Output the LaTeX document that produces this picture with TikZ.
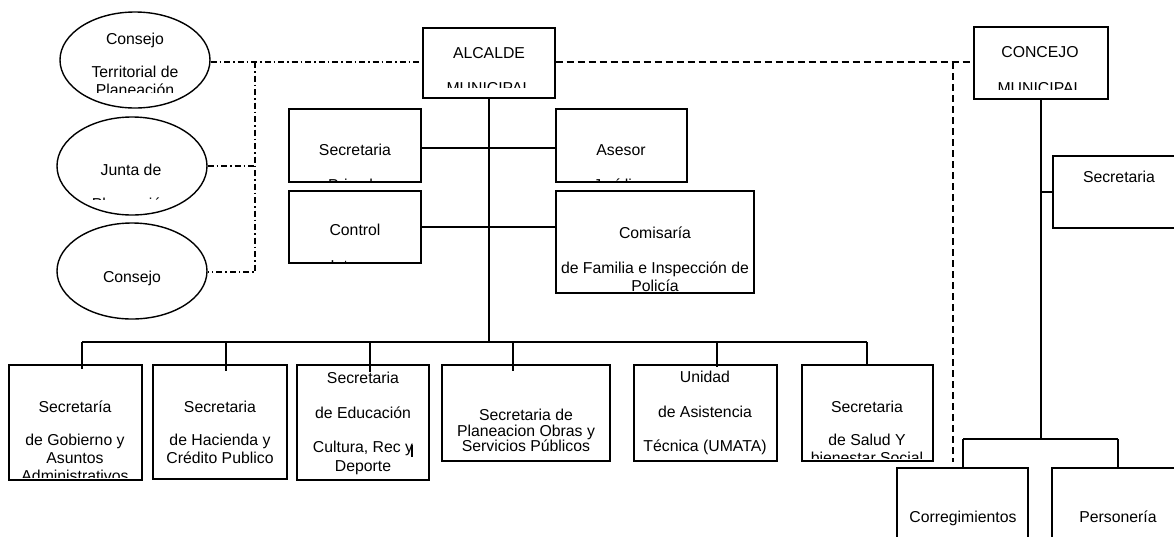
\documentclass[tikz,border=0pt]{standalone}
\usepackage{fontspec}
\setmainfont{Liberation Sans}
\usetikzlibrary{shapes.geometric}

\tikzset{
  unit/.style 2 args={draw, line width=1.4pt, minimum width=#1, minimum height=#2, inner sep=0pt},
  council/.style={draw, ellipse, line width=1.4pt, minimum width=150pt, minimum height=#1, inner sep=0pt},
  lbl/.style={anchor=north, align=center, inner sep=0pt, font=\fontsize{15.8}{18}\selectfont},
  link/.style={line width=1.4pt},
  dashlink/.style={line width=1.4pt, dash pattern=on 7pt off 4pt},
  dotlink/.style={line width=1.4pt, dash pattern=on 6pt off 3pt on 1.5pt off 3pt},
}

% text cut off at the bottom of its box
\newcommand{\cuttext}[4]{%
  \begin{scope}
    \clip (0,0) rectangle (1174,#1);
    \node[lbl] (#2) at (#3) {#4};
  \end{scope}}

\begin{document}
\begin{tikzpicture}[x=1pt, y=-1pt]
    \useasboundingbox (0,0) rectangle (1174,536);
    \clip (0,0) rectangle (1174,536);

    % Councils
    \node[council=96pt] (ctp) at (135,60) {};
    \node[council=98pt] (jdp) at (132,166) {};
    \node[council=96pt] (cmd) at (132,271) {};
    \cuttext{92}{ctp-t}{135,33}{Consejo\\[15pt]Territorial de\\Planeación}
    \cuttext{199}{jdp-t}{131,164}{Junta de\\[16pt]Planeación}
    \node[lbl] (cmd-t) at (132,271) {Consejo};

    % Mayor and council heads
    \node[unit={132pt}{70pt}] (alcalde) at (489,63) {};
    \node[unit={134pt}{72pt}] (concejo) at (1041,63) {};
    \cuttext{87}{alcalde-t}{489,47}{ALCALDE\\[17pt]MUNICIPAL}
    \cuttext{89}{concejo-t}{1040,46}{CONCEJO\\[18pt]MUNICIPAL}

    % Offices next to the mayor
    \node[unit={132pt}{73pt}] (privada) at (355,145.5) {};
    \node[unit={131pt}{73pt}] (asesor) at (621.5,145.5) {};
    \node[unit={132pt}{72pt}] (control) at (355,227) {};
    \node[unit={198pt}{102pt}] (comisaria) at (655,242) {};
    \cuttext{181}{privada-t}{355,144}{Secretaria\\[17pt]Privada}
    \cuttext{181}{asesor-t}{621,144}{Asesor\\[17pt]Jurídico}
    \cuttext{262}{control-t}{355,224}{Control\\[18pt]Interno}
    \node[lbl] (comisaria-t) at (655,227) {Comisaría\\[17pt]de Familia e Inspección de\\Policía};

    % Secretariats
    \node[unit={133pt}{115pt}] (gobierno) at (75.5,422.5) {};
    \node[unit={134pt}{114pt}] (hacienda) at (220,422) {};
    \node[unit={132pt}{115pt}] (educacion) at (363,422.5) {};
    \node[unit={168pt}{96pt}] (planeacion) at (526,413) {};
    \node[unit={143pt}{96pt}] (umata) at (705.5,413) {};
    \node[unit={131pt}{96pt}] (salud) at (867.5,413) {};
    \cuttext{477}{gobierno-t}{75,401}{Secretaría\\[15pt]de Gobierno y\\Asuntos\\Administrativos}
    \node[lbl] (hacienda-t) at (220,401) {Secretaria\\[15pt]de Hacienda y\\Crédito Publico};
    \node[lbl] (educacion-t) at (363,372) {Secretaria\\[17pt]de Educación\\[16pt]Cultura, Rec y\\[1pt]Deporte};
    \node[lbl] (planeacion-t) at (526,409) {Secretaria de\\[-2.5pt]Planeacion Obras y\\[-2.5pt]Servicios Públicos};
    \node[lbl] (umata-t) at (705,371) {Unidad\\[17pt]de Asistencia\\[16pt]Técnica (UMATA)};
    \cuttext{458}{salud-t}{867,401}{Secretaria\\[15pt]de Salud Y\\bienestar Social}
    \draw[link] (412,445) -- (412,457);

    % Under the council
    \node[unit={133pt}{72pt}] (secconcejo) at (1119.5,192) {};
    \node[unit={131pt}{104pt}] (correg) at (962.5,520) {};
    \node[unit={132pt}{104pt}] (personeria) at (1118,520) {};
    \node[lbl] (secconcejo-t) at (1119,171) {Secretaria};
    \node[lbl] (correg-t) at (963,511) {Corregimientos};
    \node[lbl] (personeria-t) at (1118,511) {Personería};

    % Dash-dot links
    \coordinate (cc-top) at (255,62);
    \coordinate (cc-bot) at (255,272);
    \draw[dotlink] (cc-top -| ctp.east) -- (cc-top -| alcalde.west);
    \draw[dotlink] (cc-top) -- (cc-bot) -- (cc-bot -| cmd.east);
    \draw[dotlink] (jdp.east) -- (jdp.east -| cc-top);

    % Dashed link
    \coordinate (dl-top) at (953,62);
    \coordinate (dl-bot) at (953,462);
    \draw[dashlink] (alcalde.east |- dl-top) -- (concejo.west |- dl-top);
    \draw[dashlink] (dl-top) -- (dl-bot);

    % Mayor lines
    \coordinate (bus-l) at (82,342);
    \coordinate (bus-r) at (867,342);
    \draw[link] (alcalde.south) -- (alcalde.south |- bus-l);
    \draw[link] ([yshift=-2.5pt]privada.east) -- ([yshift=-2.5pt]asesor.west);
    \draw[link] (control.east) -- (control.east -| comisaria.west);
    \draw[link] (bus-l) -- (bus-r);
    \foreach \x/\n/\d in {82/gobierno/5, 226/hacienda/7, 370/educacion/8, 513/planeacion/7, 717/umata/3, 867/salud/0} {
        \coordinate (drop-\n) at (\x,342);
        \draw[link] (drop-\n) -- ([yshift=-\d pt]\n.north -| drop-\n);
    }

    % Council lines
    \coordinate (cb-l) at (963,439);
    \coordinate (cb-r) at (1118,439);
    \draw[link] (concejo.south) -- (concejo.south |- cb-l);
    \draw[link] (secconcejo.west) -- (secconcejo.west -| concejo.south);
    \draw[link] (cb-l) -- (cb-r);
    \draw[link] (cb-l) -- (correg.north -| cb-l);
    \draw[link] (cb-r) -- (personeria.north -| cb-r);
\end{tikzpicture}
\end{document}
